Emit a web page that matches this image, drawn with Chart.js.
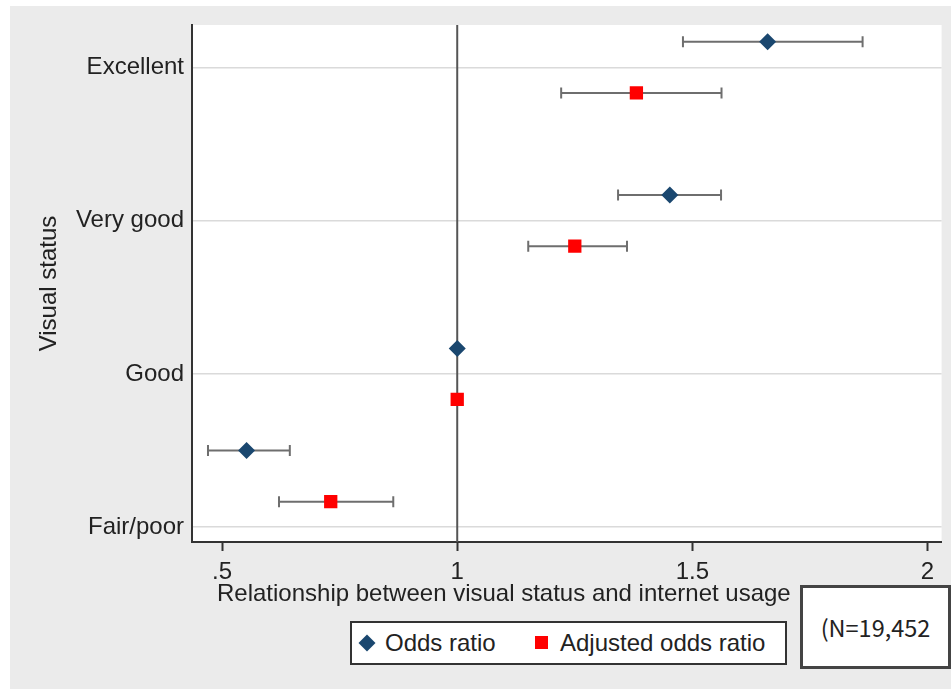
<!DOCTYPE html>
<html>
<head>
<meta charset="utf-8">
<script src="https://cdn.jsdelivr.net/npm/chart.js@4.4.1/dist/chart.umd.min.js"></script>
<style>
  body { margin: 0; background: #fff; }
  #wrap { position: relative; width: 951px; height: 689px; }
  #xtitle {
    position: absolute; left: 217px; top: 579px; line-height: 28px; white-space: nowrap;
    font: 24px "Liberation Sans", Arial, sans-serif; color: #222;
  }
  #legend {
    position: absolute; left: 350px; top: 621px; width: 433px; height: 40px;
    background: #fff; border: 2px solid #333;
    font: 24px "Liberation Sans", Arial, sans-serif; color: #222;
  }
  #legend span { position: absolute; top: 6px; }
  .diamond { position: absolute; left: 9px; top: 14px; width: 12px; height: 12px; background: #1a476f; transform: rotate(45deg); }
  .square { position: absolute; left: 183px; top: 13px; width: 13px; height: 13px; background: #ff0000; }
  #nbox {
    position: absolute; left: 800px; top: 585px; width: 145px; height: 78px;
    background: #fff; border: 3px solid #444;
    font: 23.5px "Noto Sans CJK KR", "Noto Sans", sans-serif; color: #222;
    line-height: 78px; text-align: center;
  }
</style>
</head>
<body>
<div id="wrap">
  <canvas id="chart" width="951" height="689"></canvas>
  <div id="xtitle">Relationship between visual status and internet usage</div>
  <div id="legend">
    <div class="diamond"></div><span style="left:33px">Odds ratio</span>
    <div class="square"></div><span style="left:208px">Adjusted odds ratio</span>
  </div>
  <div id="nbox">(N=19,452</div>
</div>
<script>
// Visual status categories (top to bottom)
const categories = ['Excellent', 'Very good', 'Good', 'Fair/poor'];
const labelRows = [0.5, 3.5, 6.5, 9.5];

// Odds ratio with 95% CI
const oddsRatio = [1.66, 1.452, 1.00, 0.552];
const oddsLow = [1.48, 1.342, null, 0.47];
const oddsHigh = [1.862, 1.561, null, 0.644];
const oddsRows = [0, 3, 6, 8];

// Adjusted odds ratio with 95% CI
const adjOdds = [1.381, 1.25, 1.00, 0.731];
const adjLow = [1.221, 1.151, null, 0.621];
const adjHigh = [1.562, 1.361, null, 0.864];
const adjRows = [1, 4, 7, 9];

const xTicks = [0.5, 1, 1.5, 2];
const xTickLabels = ['.5', '1', '1.5', '2'];

const yMin = -0.33, yMax = 9.79;
const FONT = '"Liberation Sans", Arial, sans-serif';

const datasets = [];

datasets.push({
    label: 'Odds ratio',
    data: oddsRatio.map((v, i) => ({ x: v, y: oddsRows[i] })),
    pointStyle: 'rectRot',
    pointRadius: 8.5,
    backgroundColor: '#1a476f',
    borderWidth: 0,
    order: 0
});
datasets.push({
    label: 'Adjusted odds ratio',
    data: adjOdds.map((v, i) => ({ x: v, y: adjRows[i] })),
    pointStyle: 'rect',
    pointRadius: 9.4,
    backgroundColor: '#ff0000',
    borderWidth: 0,
    order: 0
});

// confidence interval bars
function addCI(lows, highs, rows) {
    lows.forEach((lo, i) => {
        if (lo === null) return;
        datasets.push({
            data: [{ x: lo, y: rows[i] }, { x: highs[i], y: rows[i] }],
            showLine: true,
            borderColor: '#6e6e6e',
            borderWidth: 2,
            pointStyle: 'line',
            rotation: 90,
            pointRadius: 5.5,
            pointBorderColor: '#6e6e6e',
            pointBorderWidth: 2,
            order: 1
        });
    });
}
addCI(oddsLow, oddsHigh, oddsRows);
addCI(adjLow, adjHigh, adjRows);

// reference line at 1
datasets.push({
    data: [{ x: 1, y: yMin }, { x: 1, y: yMax }],
    showLine: true,
    borderColor: '#555',
    borderWidth: 2,
    pointRadius: 0,
    order: 2
});

const background = {
    id: 'background',
    beforeDraw(chart) {
        const { ctx, chartArea: a } = chart;
        ctx.save();
        ctx.fillStyle = '#ebebeb';
        ctx.fillRect(10, 6, 941, 683);
        ctx.fillStyle = '#fff';
        ctx.fillRect(a.left, a.top, a.right - a.left, a.bottom - a.top);
        ctx.restore();
    }
};

new Chart(document.getElementById('chart'), {
    type: 'scatter',
    data: { datasets },
    options: {
        responsive: false,
        animation: false,
        layout: { padding: { top: 25, right: 8, left: 0, bottom: 0 } },
        plugins: { legend: { display: false }, tooltip: { enabled: false } },
        scales: {
            x: {
                min: 0.436,
                max: 2.03,
                afterBuildTicks: s => { s.ticks = xTicks.map(v => ({ value: v })); },
                afterFit: s => { s.height = 147; },
                ticks: {
                    callback: (v, i) => xTickLabels[i],
                    font: { family: FONT, size: 24 },
                    color: '#222',
                    padding: 7,
                    maxRotation: 0
                },
                grid: { color: 'rgba(0,0,0,0)', tickColor: '#333', tickLength: 9, tickWidth: 2 },
                border: { color: '#333', width: 2 }
            },
            y: {
                reverse: true,
                min: yMin,
                max: yMax,
                afterBuildTicks: s => { s.ticks = labelRows.map(v => ({ value: v })); },
                afterFit: s => { s.width = 192; },
                ticks: {
                    callback: (v, i) => categories[i],
                    font: { family: FONT, size: 24 },
                    color: '#222',
                    padding: 8
                },
                grid: { color: '#dadada', lineWidth: 1.5, drawTicks: false },
                border: { color: '#333', width: 2 },
                title: {
                    display: true,
                    text: 'Visual status',
                    font: { family: FONT, size: 24 },
                    color: '#222',
                    padding: { top: 35, bottom: 0 }
                }
            }
        }
    },
    plugins: [background]
});
</script>
</body>
</html>
